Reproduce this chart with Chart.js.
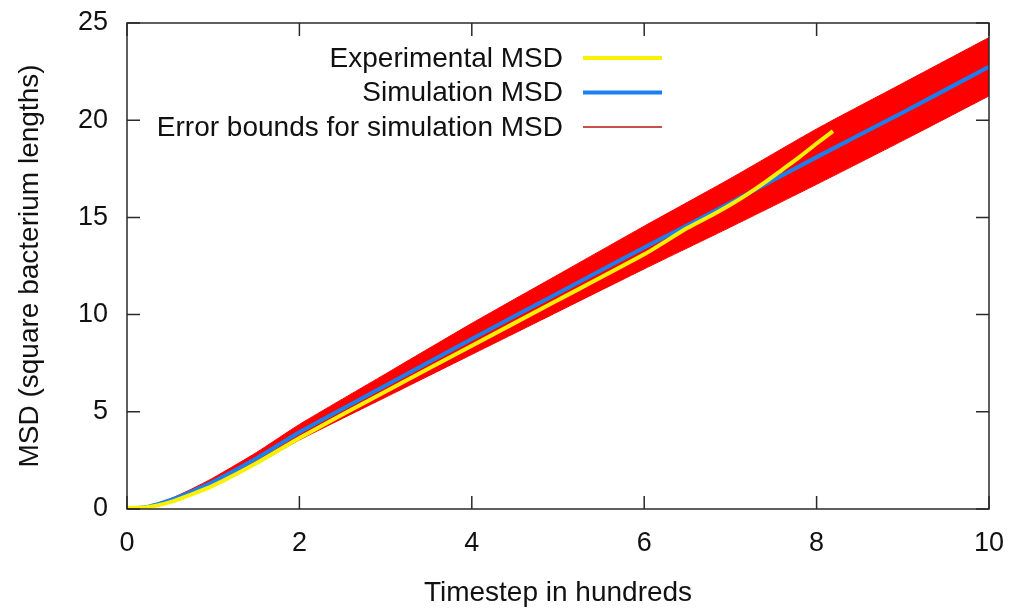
<!DOCTYPE html>
<html>
<head>
<meta charset="utf-8">
<script src="https://cdn.jsdelivr.net/npm/chart.js@4.4.1/dist/chart.umd.min.js"></script>
<style>
  html, body { margin: 0; padding: 0; background: #fff; }
  #wrap { width: 1012px; height: 611px; }
</style>
</head>
<body>
<div id="wrap"><canvas id="msdChart" width="1012" height="611"></canvas></div>
<script>
// values (timestep in hundreds / MSD)
const timeSim = [0, 0.25, 0.5, 0.75, 1, 1.5, 2, 3, 4, 5, 6, 7, 8, 9, 10];
const simMSD = [0, 0.12, 0.45, 0.9, 1.4, 2.6, 3.95, 6.35, 8.75, 11.1, 13.45, 15.75, 18.1, 20.4, 22.75];
const errUpper = [0, 0.14, 0.52, 1.03, 1.6, 2.9, 4.35, 6.95, 9.55, 12.05, 14.55, 17.0, 19.55, 21.9, 24.25];
const errLower = [0, 0.1, 0.38, 0.77, 1.2, 2.3, 3.55, 5.75, 7.95, 10.15, 12.35, 14.5, 16.7, 18.95, 21.25];

const timeExp = [0, 0.25, 0.5, 0.75, 1, 1.5, 2, 3, 4, 5, 6, 6.5, 6.8, 7, 7.2, 7.4, 7.6, 7.8, 8, 8.19];
const expMSD = [0.05, 0.1, 0.35, 0.75, 1.2, 2.35, 3.65, 6.05, 8.4, 10.75, 13.1, 14.45, 15.15, 15.65, 16.2, 16.8, 17.45, 18.1, 18.8, 19.44];

const xTicks = [0, 2, 4, 6, 8, 10];
const yTicks = [0, 5, 10, 15, 20, 25];

const legendItems = [
  { label: 'Experimental MSD', color: '#f8f200', width: 4 },
  { label: 'Simulation MSD', color: '#1a80f0', width: 4 },
  { label: 'Error bounds for simulation MSD', color: '#c9504a', width: 2 }
];

const pts = (xs, ys) => xs.map((x, i) => ({ x: x, y: ys[i] }));
const FONT = '"Liberation Sans", Arial, sans-serif';

// gnuplot style box: inward ticks on all four sides + legend
const gnuplotFrame = {
  id: 'gnuplotFrame',
  afterDraw(chart) {
    const { ctx, chartArea: a, scales } = chart;
    ctx.save();
    ctx.strokeStyle = '#2a2a2a';
    ctx.lineWidth = 1.5;
    ctx.strokeRect(a.left, a.top, a.right - a.left, a.bottom - a.top);
    const tl = 13;
    ctx.beginPath();
    xTicks.forEach(v => {
      const px = scales.x.getPixelForValue(v);
      ctx.moveTo(px, a.bottom); ctx.lineTo(px, a.bottom - tl);
      ctx.moveTo(px, a.top); ctx.lineTo(px, a.top + tl);
    });
    yTicks.forEach(v => {
      const py = scales.y.getPixelForValue(v);
      ctx.moveTo(a.left, py); ctx.lineTo(a.left + tl, py);
      ctx.moveTo(a.right, py); ctx.lineTo(a.right - tl, py);
    });
    ctx.stroke();

    // legend
    ctx.font = '28px ' + FONT;
    ctx.fillStyle = '#111';
    ctx.textAlign = 'right';
    ctx.textBaseline = 'middle';
    legendItems.forEach((it, i) => {
      const y = 58 + i * 34.5;
      ctx.fillText(it.label, 563, y + 1);
      ctx.beginPath();
      ctx.strokeStyle = it.color;
      ctx.lineWidth = it.width;
      ctx.moveTo(583, y); ctx.lineTo(662, y);
      ctx.stroke();
    });
    ctx.restore();
  }
};

new Chart(document.getElementById('msdChart'), {
  type: 'line',
  data: {
    datasets: [
      { label: 'Experimental MSD', data: pts(timeExp, expMSD), borderColor: '#f8f200', borderWidth: 4, pointRadius: 0, tension: 0.2, fill: false },
      { label: 'Simulation MSD', data: pts(timeSim, simMSD), borderColor: '#1a80f0', borderWidth: 4, pointRadius: 0, tension: 0.2, fill: false },
      { label: 'Error bounds for simulation MSD', data: pts(timeSim, errUpper), borderColor: '#ff0000', borderWidth: 1, backgroundColor: '#ff0000', pointRadius: 0, tension: 0.2, fill: '+1' },
      { label: 'lower bound', data: pts(timeSim, errLower), borderColor: '#ff0000', borderWidth: 1, pointRadius: 0, tension: 0.2, fill: false }
    ]
  },
  options: {
    responsive: false,
    animation: false,
    layout: { padding: { left: 0, top: 23, right: 23, bottom: 0 } },
    plugins: { legend: { display: false }, tooltip: { enabled: false } },
    scales: {
      x: {
        type: 'linear', min: 0, max: 10,
        afterBuildTicks: s => { s.ticks = xTicks.map(v => ({ value: v })); },
        afterFit: s => { s.height = 102; s.paddingLeft = 0; s.paddingRight = 0; },
        grid: { display: false },
        border: { display: false },
        ticks: { font: { family: FONT, size: 27 }, color: '#111', padding: 10 },
        title: { display: true, text: 'Timestep in hundreds', font: { family: FONT, size: 28 }, color: '#111', padding: { top: 0, bottom: 1 } }
      },
      y: {
        type: 'linear', min: 0, max: 25,
        afterBuildTicks: s => { s.ticks = yTicks.map(v => ({ value: v })); },
        afterFit: s => { s.width = 127; s.paddingTop = 0; s.paddingBottom = 0; },
        grid: { display: false },
        border: { display: false },
        ticks: { font: { family: FONT, size: 27 }, color: '#111', padding: 11 },
        title: { display: true, text: 'MSD (square bacterium lengths)', font: { family: FONT, size: 28 }, color: '#111', padding: { top: 13, bottom: 0 } }
      }
    }
  },
  plugins: [gnuplotFrame]
});
</script>
</body>
</html>
